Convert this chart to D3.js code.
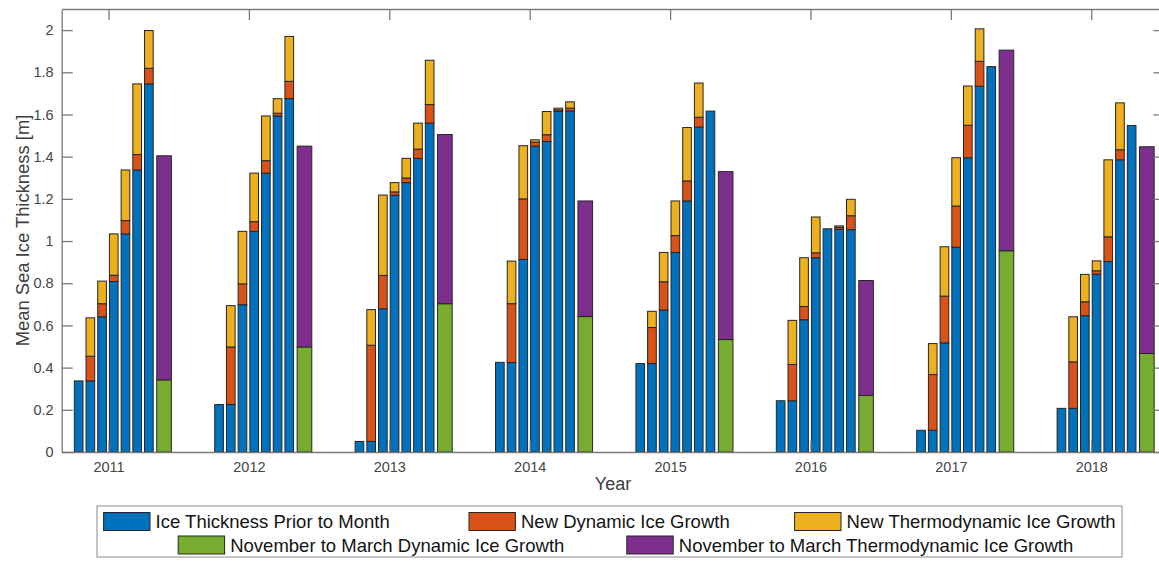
<!DOCTYPE html>
<html>
<head>
<meta charset="utf-8">
<script src="https://cdn.jsdelivr.net/npm/d3@7"></script>
<style>
  body { margin: 0; background: #fff; }
  svg { display: block; font-family: "Liberation Sans", Arial, Helvetica, sans-serif; }
</style>
</head>
<body>
<div id="chart"></div>
<script>
// values (m)
const years = [2011, 2012, 2013, 2014, 2015, 2016, 2017, 2018];

// 7 monthly bars per year
const priorThickness = [
    [0.337, 0.337, 0.641, 0.808, 1.034, 1.337, 1.745],
    [0.225, 0.225, 0.698, 1.046, 1.322, 1.593, 1.675],
    [0.050, 0.050, 0.679, 1.217, 1.277, 1.392, 1.559],
    [0.425, 0.424, 0.913, 1.450, 1.472, 1.614, 1.617],
    [0.419, 0.419, 0.673, 0.946, 1.190, 1.540, 1.616],
    [0.243, 0.243, 0.627, 0.921, 1.058, 1.056, 1.054],
    [0.103, 0.103, 0.517, 0.971, 1.395, 1.734, 1.827],
    [0.207, 0.207, 0.646, 0.843, 0.903, 1.385, 1.548]
];
const dynamicGrowth = [
    [0, 0.117, 0.062, 0.030, 0.063, 0.073, 0.074],
    [0, 0.273, 0.099, 0.046, 0.059, 0.013, 0.082],
    [0, 0.456, 0.158, 0.016, 0.022, 0.044, 0.088],
    [0, 0.279, 0.287, 0.019, 0.032, 0.008, 0.013],
    [0, 0.171, 0.134, 0.080, 0.095, 0.047, 0],
    [0, 0.172, 0.063, 0.023, 0, 0.009, 0.066],
    [0, 0.264, 0.222, 0.195, 0.154, 0.118, 0],
    [0, 0.220, 0.066, 0.016, 0.117, 0.048, 0]
];
const thermoGrowth = [
    [0, 0.182, 0.107, 0.196, 0.240, 0.335, 0.179],
    [0, 0.196, 0.249, 0.230, 0.212, 0.069, 0.213],
    [0, 0.169, 0.381, 0.044, 0.093, 0.123, 0.210],
    [0, 0.202, 0.252, 0.011, 0.110, 0.008, 0.030],
    [0, 0.077, 0.139, 0.164, 0.253, 0.162, 0],
    [0, 0.209, 0.231, 0.170, 0, 0.007, 0.078],
    [0, 0.147, 0.234, 0.229, 0.186, 0.154, 0],
    [0, 0.214, 0.130, 0.047, 0.365, 0.222, 0]
];

// November to March totals, one wide bar per year
const novMarDynamic = [0.342, 0.498, 0.703, 0.642, 0.533, 0.268, 0.954, 0.467];
const novMarThermo  = [1.062, 0.952, 0.802, 0.548, 0.796, 0.545, 0.951, 0.980];

const yTicks = [0, 0.2, 0.4, 0.6, 0.8, 1, 1.2, 1.4, 1.6, 1.8, 2];

const seriesNames = [
    "Ice Thickness Prior to Month",
    "New Dynamic Ice Growth",
    "New Thermodynamic Ice Growth",
    "November to March Dynamic Ice Growth",
    "November to March Thermodynamic Ice Growth"
];
const colors = ["#0072BD", "#D95319", "#EDB120", "#77AC30", "#7E2F8E"];

// layout (x in months, 0 = January of each year)
const W = 1159, H = 561;
const plot = {left: 61.7, right: 1164.4, top: 9, bottom: 452};
const slotStart = -2.55;
const narrowW = 0.74, wideCenter = 4.75, wideW = 1.25;

const svg = d3.select("#chart").append("svg")
    .attr("width", W)
    .attr("height", H);

const x = d3.scaleLinear().domain([-4, 90.25]).range([plot.left, plot.right]);
const y = d3.scaleLinear().domain([0, 2.1]).range([plot.bottom, plot.top]);

// build rows for stacking
const monthRows = [];
years.forEach((yr, i) => {
    priorThickness[i].forEach((p, k) => {
        monthRows.push({
            c: 12 * i + slotStart + k,
            prior: p,
            dyn: dynamicGrowth[i][k],
            thermo: thermoGrowth[i][k]
        });
    });
});
const seasonRows = years.map((yr, i) => ({
    c: 12 * i + wideCenter,
    dyn: novMarDynamic[i],
    thermo: novMarThermo[i]
}));

const monthStack = d3.stack().keys(["prior", "dyn", "thermo"])(monthRows);
const seasonStack = d3.stack().keys(["dyn", "thermo"])(seasonRows);

function drawStack(stack, colorList, w) {
    stack.forEach((layer, li) => {
        svg.append("g")
            .selectAll("rect")
            .data(layer.filter(d => d[1] - d[0] > 0))
            .enter()
            .append("rect")
            .attr("x", d => x(d.data.c - w / 2))
            .attr("width", d => x(d.data.c + w / 2) - x(d.data.c - w / 2))
            .attr("y", d => y(d[1]))
            .attr("height", d => y(d[0]) - y(d[1]))
            .attr("fill", colorList[li])
            .attr("stroke", "#262626")
            .attr("stroke-width", 1);
    });
}
drawStack(monthStack, colors.slice(0, 3), narrowW);
drawStack(seasonStack, colors.slice(3), wideW);

// axes (ticks point inward like MATLAB)
const yearTicks = years.map((yr, i) => 12 * i);
const fmt = d => d3.format(".1f")(d).replace(/\.0$/, "");

const axisColor = "#7a7a7a";
function styleAxis(g) {
    g.select(".domain").attr("stroke", axisColor).attr("stroke-width", 1.3);
    g.selectAll(".tick line").attr("stroke", axisColor).attr("stroke-width", 1.3);
    g.selectAll(".tick text").attr("fill", "#454545").style("font-size", "14.5px");
}

svg.append("g")
    .attr("transform", `translate(0,${plot.bottom})`)
    .call(d3.axisBottom(x).tickValues(yearTicks).tickFormat((d, i) => years[i])
        .tickSizeInner(-11).tickSizeOuter(0).tickPadding(10))
    .call(styleAxis);

svg.append("g")
    .attr("transform", `translate(0,${plot.top})`)
    .call(d3.axisTop(x).tickValues(yearTicks).tickFormat("")
        .tickSizeInner(-11).tickSizeOuter(0))
    .call(styleAxis);

svg.append("g")
    .attr("transform", `translate(${plot.left},0)`)
    .call(d3.axisLeft(y).tickValues(yTicks).tickFormat(fmt)
        .tickSizeInner(-11).tickSizeOuter(0).tickPadding(8))
    .call(styleAxis);

svg.append("g")
    .attr("transform", `translate(${plot.right},0)`)
    .call(d3.axisRight(y).tickValues(yTicks).tickFormat("")
        .tickSizeInner(-11).tickSizeOuter(0))
    .call(styleAxis);

// axis titles
svg.append("text")
    .attr("x", (plot.left + plot.right) / 2)
    .attr("y", 490)
    .attr("text-anchor", "middle")
    .attr("fill", "#404040")
    .style("font-size", "18px")
    .text("Year");

svg.append("text")
    .attr("transform", `translate(22,${(plot.top + plot.bottom) / 2}) rotate(-90)`)
    .attr("text-anchor", "middle")
    .attr("dominant-baseline", "central")
    .attr("fill", "#404040")
    .style("font-size", "18.4px")
    .text("Mean Sea Ice Thickness [m]");

// legend
const legendPos = [
    {x: 103.6, row: 0}, {x: 469, row: 0}, {x: 794.6, row: 0},
    {x: 178.2, row: 1}, {x: 626.8, row: 1}
];
const rowY = [521.5, 545];

svg.append("rect")
    .attr("x", 97).attr("y", 506)
    .attr("width", 1122 - 97).attr("height", 557 - 506)
    .attr("fill", "#fff")
    .attr("stroke", "#8c8c8c")
    .attr("stroke-width", 1);

const legend = svg.append("g")
    .selectAll("g")
    .data(seriesNames)
    .enter()
    .append("g")
    .attr("transform", (d, i) => `translate(${legendPos[i].x},${rowY[legendPos[i].row]})`);

legend.append("rect")
    .attr("x", 0).attr("y", -9)
    .attr("width", 46.4).attr("height", 18)
    .attr("fill", (d, i) => colors[i])
    .attr("stroke", "#262626")
    .attr("stroke-width", 1);

legend.append("text")
    .attr("x", 52)
    .attr("y", 0)
    .attr("dominant-baseline", "central")
    .attr("fill", "#141414")
    .style("font-size", "18.5px")
    .text(d => d);
</script>
</body>
</html>
